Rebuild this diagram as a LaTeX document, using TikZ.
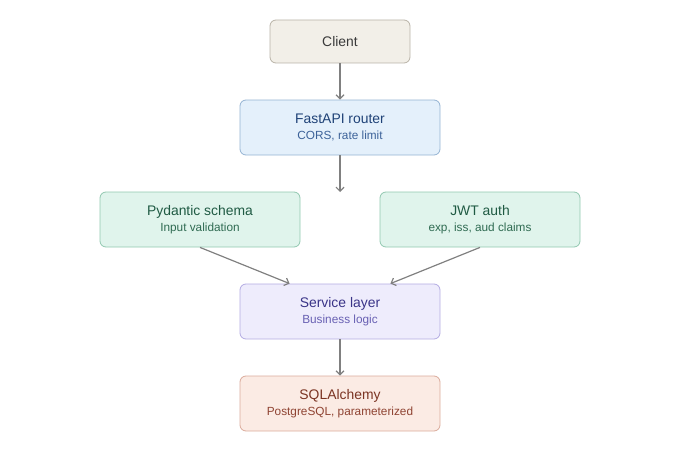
\documentclass[tikz,border=0pt]{standalone}
\usepackage{fontspec}
\setmainfont{Liberation Sans}
\usetikzlibrary{arrows.meta,positioning}
\definecolor{clientfill}{HTML}{F2EFE8}
\definecolor{clientline}{HTML}{B9B3A7}
\definecolor{clienttext}{HTML}{3A3A3A}
\definecolor{routerfill}{HTML}{E4F0FB}
\definecolor{routerline}{HTML}{94B3D3}
\definecolor{routertext}{HTML}{1F4277}
\definecolor{routersub}{HTML}{3C6299}
\definecolor{checkfill}{HTML}{E0F4EC}
\definecolor{checkline}{HTML}{91C8B0}
\definecolor{checktext}{HTML}{1F5A43}
\definecolor{checksub}{HTML}{2F6B52}
\definecolor{servfill}{HTML}{EEECFC}
\definecolor{servline}{HTML}{B3ABE2}
\definecolor{servtext}{HTML}{3A3488}
\definecolor{servsub}{HTML}{6860B3}
\definecolor{dbfill}{HTML}{FBEBE4}
\definecolor{dbline}{HTML}{DAAB9B}
\definecolor{dbtext}{HTML}{7B3423}
\definecolor{dbsub}{HTML}{8F4332}
\definecolor{wire}{HTML}{808080}

\newcommand{\twoline}[3]{#1\\[-1.5pt]{\fontsize{11.8}{14}\selectfont\color{#3}#2}}

\begin{document}
\begin{tikzpicture}[x=1pt,y=-1pt,>={Straight Barb[length=4pt,width=8pt]},
  box/.style={draw,rounded corners=6pt,line width=0.8pt,align=center,
    minimum width=200pt,minimum height=55pt,inner sep=0pt,
    font=\fontsize{13.9}{17}\selectfont},
  wire/.style={->,draw=wire,line width=1.2pt}]
  \path[use as bounding box] (0,0) rectangle (680,460);
  \node[box,minimum width=140pt,minimum height=43pt,fill=clientfill,draw=clientline,text=clienttext] (client) at (340,41.5) {Client};
  \node[box,fill=routerfill,draw=routerline,text=routertext] (router) at (340,127.5) {\twoline{FastAPI router}{CORS, rate limit}{routersub}};
  \coordinate (gap) at (340,192);
  \node[box,fill=checkfill,draw=checkline,text=checktext] (schema) at (200,219.5) {\twoline{Pydantic schema}{Input validation}{checksub}};
  \node[box,fill=checkfill,draw=checkline,text=checktext] (jwt) at (480,219.5) {\twoline{JWT auth}{exp, iss, aud claims}{checksub}};
  \node[box,fill=servfill,draw=servline,text=servtext] (service) at (340,311.5) {\twoline{Service layer}{Business logic}{servsub}};
  \node[box,fill=dbfill,draw=dbline,text=dbtext] (db) at (340,403.5) {\twoline{SQLAlchemy}{PostgreSQL, parameterized}{dbsub}};
  \draw[wire] (client) -- (router);
  \draw[wire] (router) -- (gap);
  \draw[wire] (schema.south) -- ([xshift=50pt]service.north west);
  \draw[wire] (jwt.south) -- ([xshift=-50pt]service.north east);
  \draw[wire] (service) -- (db);
\end{tikzpicture}
\end{document}
